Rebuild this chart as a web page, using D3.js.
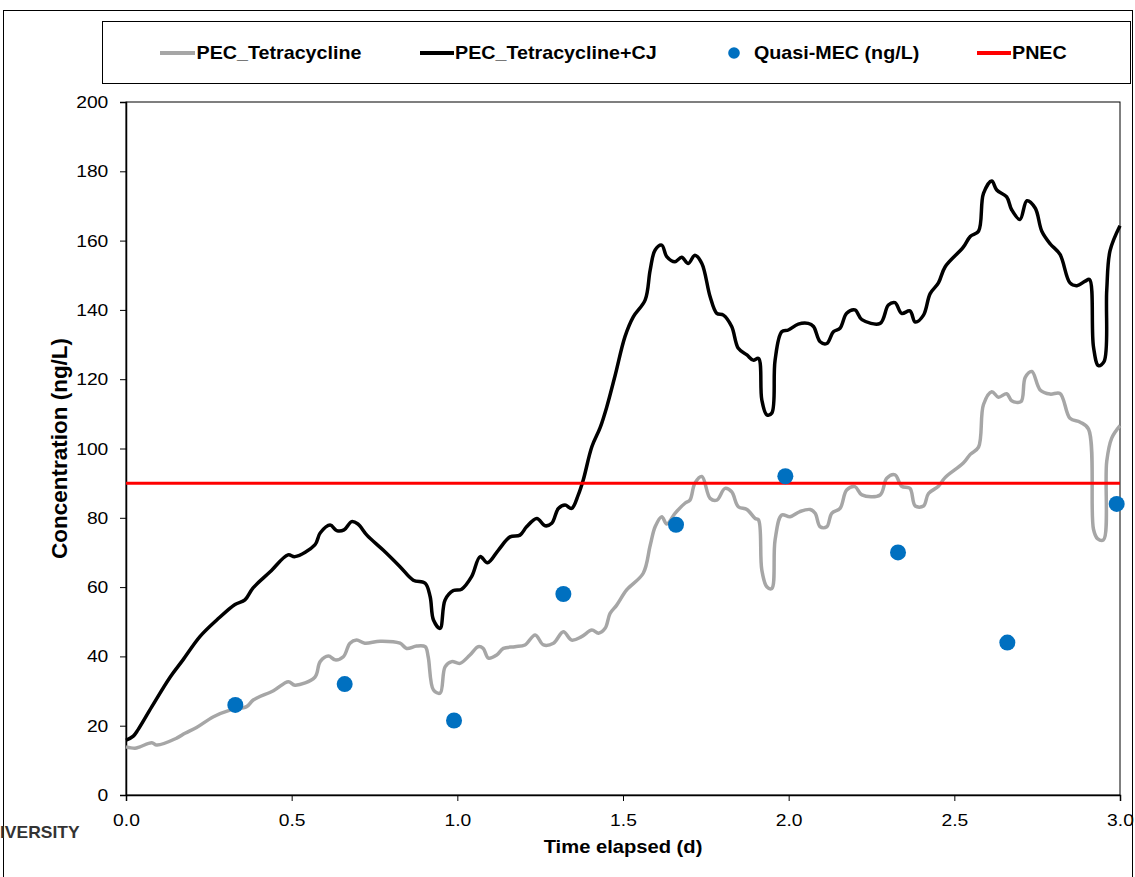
<!DOCTYPE html>
<html><head><meta charset="utf-8">
<script src="https://cdn.jsdelivr.net/npm/d3@7"></script>
<style>body{margin:0;background:#fff}svg{display:block;font-family:"Liberation Sans",Arial,sans-serif}</style>
</head><body><svg id="c" width="1135" height="877"></svg>
<script>
// ---- data ----
const xTicks = [0, 0.5, 1.0, 1.5, 2.0, 2.5, 3.0];
const yTicks = [0, 20, 40, 60, 80, 100, 120, 140, 160, 180, 200];
const pnec = 90;
const mecT = [0.33, 0.66, 0.99, 1.32, 1.66, 1.99, 2.33, 2.66, 2.99];
const mecV = [26, 32, 21.5, 58, 78, 92, 70, 44, 84];
const tetraT = [0,0.027,0.042,0.078,0.093,0.153,0.178,0.213,0.264,0.314,0.364,0.384,0.445,0.490,0.510,0.570,0.586,0.611,0.631,0.656,0.676,0.696,0.721,0.767,0.827,0.847,0.877,0.903,0.912,0.928,0.948,0.963,0.983,1.008,1.038,1.063,1.078,1.094,1.119,1.139,1.174,1.204,1.235,1.260,1.290,1.320,1.345,1.375,1.406,1.426,1.446,1.461,1.481,1.511,1.561,1.582,1.597,1.617,1.632,1.657,1.687,1.702,1.717,1.738,1.763,1.783,1.808,1.828,1.848,1.874,1.899,1.909,1.919,1.934,1.949,1.959,1.979,2.004,2.034,2.065,2.080,2.095,2.115,2.130,2.155,2.175,2.200,2.221,2.276,2.296,2.321,2.341,2.366,2.382,2.407,2.422,2.452,2.472,2.527,2.548,2.573,2.588,2.613,2.633,2.658,2.673,2.701,2.714,2.734,2.759,2.789,2.819,2.849,2.880,2.905,2.920,2.932,2.950,2.960,2.975,3.000];
const tetraV = [13.9,13.5,13.9,15.1,14.4,16.4,17.8,19.5,22.6,24.5,25.5,27.4,30.1,32.7,31.7,34,38.5,40.1,39,39.9,43.8,44.7,43.8,44.4,43.8,42.3,43,42.8,39.9,30.3,29.4,37,38.5,38,40.4,42.8,42.3,39.5,40.4,42.3,42.8,43.3,46.2,43.3,43.8,47.1,44.7,45.7,47.6,46.7,48.1,52.4,54.8,59.2,64,72,77.4,80.3,78.2,81.3,84.2,85.1,90,91.9,85.6,85.1,88.5,87.5,83.2,82.4,79.8,79.4,64.9,60.1,59.6,73.6,80.8,80.3,81.8,82.4,81.3,77.4,77.4,81.3,82.7,88,89,86.6,86.6,91.4,92.4,89.1,88.5,83.4,83.4,87,89.1,91.6,95.8,98.3,100.4,112.7,116.4,114.8,115.8,113.8,113.5,120.5,122.2,116.9,115.7,115.9,108.7,107.6,105.6,76.7,74,73.6,96.3,103,106.6];
const cjT = [0,0.022,0.036,0.078,0.133,0.172,0.223,0.274,0.329,0.359,0.383,0.435,0.489,0.510,0.570,0.586,0.616,0.636,0.658,0.681,0.700,0.727,0.776,0.827,0.867,0.903,0.918,0.928,0.948,0.963,0.988,1.013,1.043,1.069,1.091,1.124,1.159,1.189,1.209,1.240,1.265,1.285,1.305,1.325,1.345,1.365,1.380,1.406,1.431,1.451,1.476,1.506,1.531,1.567,1.582,1.597,1.617,1.632,1.657,1.677,1.697,1.717,1.738,1.763,1.783,1.803,1.828,1.848,1.874,1.893,1.909,1.919,1.934,1.949,1.959,1.979,1.999,2.029,2.059,2.075,2.095,2.115,2.135,2.155,2.175,2.200,2.221,2.276,2.301,2.321,2.341,2.366,2.382,2.407,2.427,2.452,2.472,2.527,2.548,2.573,2.588,2.613,2.628,2.658,2.673,2.698,2.719,2.744,2.764,2.789,2.819,2.849,2.870,2.895,2.908,2.920,2.935,2.952,2.960,2.970,3.000];
const cjV = [15.8,17,18.8,25.5,34,39,45.7,50.5,55,56.3,59.7,64.4,69.3,68.8,72.2,75.6,77.9,76.3,76.5,78.9,78.2,75,70.7,65.9,62,61.1,57.2,50.5,48.1,56.3,59,59.4,63,68.8,67,70.7,74.5,75,77.4,79.8,77.7,78.4,82.7,83.7,82.7,86.6,90.9,100.5,106,112,121,132.3,138,142.9,151.5,157.3,158.7,155.4,153.9,155.2,153.4,155.8,153.4,143.8,139,138.5,135.2,128.9,127,125.5,126,114,109.7,110.2,125.5,133.7,134.2,135.9,136.1,135.2,130.8,130.3,133.7,134.7,139,140,137.2,136.1,141.4,142.1,139,139.7,136.5,138.5,144.7,147.8,152.4,158.1,161.2,162.7,173.6,177.2,174.6,172.6,168.9,166.1,171.5,169.4,162.7,159.1,156,147.8,147,148.3,148.8,129.3,123.9,125.1,145.7,157.1,164.3];
const legendLabels = ["PEC_Tetracycline", "PEC_Tetracycline+CJ", "Quasi-MEC (ng/L)", "PNEC"];
const colors = {tetra: "#A6A6A6", cj: "#000000", mec: "#0070C0", pnec: "#FF0000"};

// ---- drawing ----
const svg = d3.select("#c");
const L = 126, R = 1120, T = 102, B = 795;
const SX = 1.12; // horizontal text stretch seen in the reference
const x = d3.scaleLinear().domain([0, 3]).range([L, R]);
const y = d3.scaleLinear().domain([0, 200]).range([B, T]);

function stretchedText(parent, tx, ty, size, str, anchor) {
  return parent.append("text")
    .attr("transform", `translate(${tx},${ty}) scale(${SX},1)`)
    .attr("font-size", size).attr("text-anchor", anchor || "start").text(str);
}

// outer frame
svg.append("rect").attr("x", 3.5).attr("y", 10.5).attr("width", 1129).attr("height", 900)
  .attr("fill", "none").attr("stroke", "#000").attr("stroke-width", 1);

// watermark fragment
stretchedText(svg, 0, 838, 15.6, "IVERSITY").attr("font-weight", "bold").attr("fill", "#333");

// legend box
svg.append("rect").attr("x", 102.5).attr("y", 21.5).attr("width", 1028).attr("height", 62)
  .attr("fill", "#fff").attr("stroke", "#000").attr("stroke-width", 1);

const lg = svg.append("g").attr("font-weight", "bold");
const ly = 53;
const legItems = [
  {type: "line", color: colors.tetra, x1: 160, x2: 195, tx: 196.5},
  {type: "line", color: colors.cj, x1: 420, x2: 454, tx: 455},
  {type: "dot", color: colors.mec, cx: 734, tx: 754},
  {type: "line", color: colors.pnec, x1: 977, x2: 1011, tx: 1012}
];
legItems.forEach((it, i) => {
  if (it.type === "line") {
    lg.append("line").attr("x1", it.x1).attr("x2", it.x2).attr("y1", ly).attr("y2", ly)
      .attr("stroke", it.color).attr("stroke-width", 4);
  } else {
    lg.append("circle").attr("cx", it.cx).attr("cy", ly).attr("r", 5.8).attr("fill", it.color);
  }
  stretchedText(lg, it.tx, ly + 6.3, 17.6, legendLabels[i]);
});

// plot frame
svg.append("rect").attr("x", L).attr("y", T).attr("width", R - L).attr("height", B - T)
  .attr("fill", "none").attr("stroke", "#000").attr("stroke-width", 1);

// axes
const xAxis = svg.append("g").attr("transform", `translate(0,${B})`)
  .call(d3.axisBottom(x).tickValues(xTicks).tickFormat(d3.format(".1f")).tickSizeOuter(0).tickSize(6).tickPadding(13));
const yAxis = svg.append("g").attr("transform", `translate(${L},0)`)
  .call(d3.axisLeft(y).tickValues(yTicks).tickFormat(d3.format("d")).tickSizeOuter(0).tickSize(6).tickPadding(9.8));
[xAxis, yAxis].forEach(a => {
  a.selectAll("text").attr("font-size", 17.2).attr("fill", "#000")
    .attr("font-family", '"Liberation Sans",Arial,sans-serif').attr("transform", `scale(${SX},1)`);
  a.select(".domain").attr("stroke", "#000").attr("stroke-width", 1.5);
  a.selectAll(".tick line").attr("stroke", "#000").attr("stroke-width", 1);
});

stretchedText(svg, (L + R) / 2, 853, 18, "Time elapsed (d)", "middle").attr("font-weight", "bold");
svg.append("text").attr("transform", `translate(66.5,${(T + B) / 2}) rotate(-90)`).attr("text-anchor", "middle")
  .attr("font-size", 22.5).attr("font-weight", "bold").text("Concentration (ng/L)");

// series
const line = d3.line().x(d => x(d[0])).y(d => y(d[1])).curve(d3.curveCatmullRom.alpha(0.5));
const tetra = tetraT.map((t, i) => [t, tetraV[i]]);
const cj = cjT.map((t, i) => [t, cjV[i]]);

svg.append("path").datum(tetra).attr("d", line).attr("fill", "none").attr("stroke", colors.tetra)
  .attr("stroke-width", 3.5).attr("stroke-linejoin", "round");
svg.append("path").datum(cj).attr("d", line).attr("fill", "none").attr("stroke", colors.cj)
  .attr("stroke-width", 3.5).attr("stroke-linejoin", "round");
svg.append("line").attr("x1", x(0)).attr("x2", x(3)).attr("y1", y(pnec)).attr("y2", y(pnec))
  .attr("stroke", colors.pnec).attr("stroke-width", 3);
svg.append("g").selectAll("circle").data(mecT).join("circle")
  .attr("cx", d => x(d)).attr("cy", (d, i) => y(mecV[i])).attr("r", 8).attr("fill", colors.mec);
</script></body></html>
